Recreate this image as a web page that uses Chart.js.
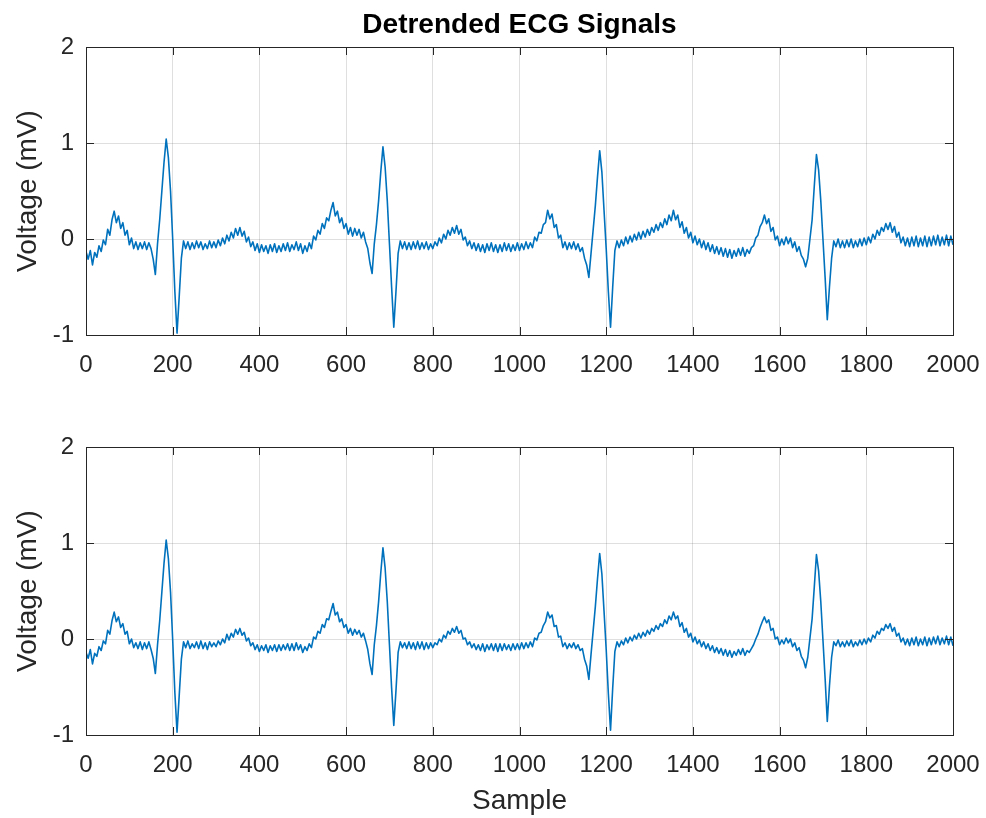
<!DOCTYPE html>
<html lang="en">
<head>
<meta charset="UTF-8">
<title>Detrended ECG Signals</title>
<script src="https://cdn.jsdelivr.net/npm/chart.js"></script>
<style>
  body { margin: 0; background: #fff; }
  #wrap { position: relative; width: 986px; height: 818px; }
  canvas { position: absolute; left: 0; }
</style>
</head>
<body>
<div id="wrap">
  <canvas id="topChart" width="986" height="400" style="top:0"></canvas>
  <canvas id="bottomChart" width="986" height="418" style="top:400px"></canvas>
</div>
<script>
// one value every 5 samples (noise included)
const sampleStep = 5;
const xTicks = [0, 200, 400, 600, 800, 1000, 1200, 1400, 1600, 1800, 2000];
const yTicks = [-1, 0, 1, 2];

const topVolts = [
  -0.13,-0.21,-0.12,-0.27,-0.14,-0.19,-0.07,-0.13,-0.01,-0.06,
  0.10,0.04,0.20,0.29,0.17,0.24,0.11,0.17,0.04,0.09,
  -0.06,0.01,-0.10,-0.03,-0.11,-0.04,-0.10,-0.03,-0.11,-0.04,
  -0.10,-0.21,-0.37,-0.05,0.20,0.50,0.80,1.04,0.85,0.50,
  0.00,-0.55,-0.98,-0.60,-0.20,-0.02,-0.10,-0.03,-0.11,-0.04,
  -0.10,-0.02,-0.09,-0.03,-0.11,-0.05,-0.10,-0.02,-0.09,-0.03,
  -0.09,-0.01,-0.07,0.01,-0.05,0.04,-0.02,0.07,0.01,0.11,
  0.04,0.12,0.03,0.08,-0.03,0.02,-0.08,-0.03,-0.12,-0.05,
  -0.14,-0.06,-0.13,-0.07,-0.15,-0.06,-0.13,-0.05,-0.14,-0.07,
  -0.13,-0.05,-0.12,-0.04,-0.13,-0.06,-0.11,-0.03,-0.12,-0.05,
  -0.15,-0.07,-0.13,-0.04,-0.10,0.03,-0.01,0.09,0.05,0.16,
  0.11,0.22,0.19,0.30,0.38,0.24,0.29,0.17,0.22,0.11,
  0.16,0.05,0.12,0.03,0.11,0.04,0.10,0.01,0.07,-0.03,
  -0.10,-0.25,-0.36,-0.05,0.15,0.40,0.70,0.96,0.75,0.40,
  -0.05,-0.50,-0.92,-0.55,-0.15,-0.02,-0.10,-0.03,-0.11,-0.04,
  -0.11,-0.03,-0.10,-0.02,-0.11,-0.04,-0.10,-0.03,-0.11,-0.05,
  -0.10,-0.03,-0.07,0.01,-0.04,0.05,0.00,0.09,0.04,0.12,
  0.06,0.14,0.05,0.10,-0.01,0.02,-0.07,-0.02,-0.10,-0.04,
  -0.12,-0.05,-0.13,-0.06,-0.14,-0.05,-0.12,-0.04,-0.13,-0.06,
  -0.14,-0.06,-0.13,-0.04,-0.12,-0.05,-0.13,-0.06,-0.12,-0.04,
  -0.12,-0.05,-0.11,-0.03,-0.10,-0.04,-0.09,0.02,-0.02,0.07,
  0.06,0.15,0.17,0.30,0.21,0.26,0.12,0.15,0.01,0.04,
  -0.09,-0.03,-0.11,-0.04,-0.10,-0.03,-0.11,-0.05,-0.13,-0.09,
  -0.20,-0.27,-0.40,-0.15,0.10,0.35,0.65,0.92,0.70,0.30,
  -0.10,-0.55,-0.92,-0.50,-0.12,-0.02,-0.09,-0.01,-0.07,0.02,
  -0.05,0.03,-0.03,0.05,-0.01,0.07,0.00,0.08,0.02,0.10,
  0.04,0.12,0.07,0.15,0.09,0.17,0.12,0.21,0.15,0.25,
  0.19,0.30,0.20,0.25,0.12,0.18,0.06,0.12,0.01,0.07,
  -0.04,0.03,-0.06,0.00,-0.09,-0.02,-0.11,-0.04,-0.13,-0.06,
  -0.15,-0.08,-0.16,-0.09,-0.18,-0.10,-0.19,-0.11,-0.20,-0.12,
  -0.18,-0.10,-0.17,-0.09,-0.18,-0.11,-0.15,-0.09,-0.07,0.01,
  0.04,0.13,0.17,0.25,0.16,0.21,0.08,0.12,-0.01,0.03,
  -0.07,0.00,-0.06,0.02,-0.05,0.01,-0.09,-0.03,-0.13,-0.08,
  -0.17,-0.21,-0.29,-0.20,0.00,0.20,0.55,0.88,0.72,0.40,
  0.00,-0.40,-0.84,-0.50,-0.20,-0.02,-0.08,0.00,-0.09,-0.02,
  -0.09,-0.01,-0.08,0.00,-0.09,-0.02,-0.08,0.00,-0.07,0.01,
  -0.06,0.02,-0.04,0.05,0.00,0.09,0.04,0.12,0.08,0.16,
  0.10,0.17,0.07,0.13,0.02,0.07,-0.04,0.02,-0.07,0.01,
  -0.08,0.02,-0.07,0.03,-0.08,0.01,-0.07,0.03,-0.08,0.02,
  -0.07,0.03,-0.06,0.04,-0.07,0.02,-0.06,0.04,-0.07,0.03,
  -0.06
];

const bottomVolts = [
  -0.14,-0.20,-0.11,-0.26,-0.15,-0.18,-0.08,-0.12,-0.02,-0.05,
  0.09,0.05,0.19,0.28,0.18,0.23,0.12,0.16,0.05,0.08,
  -0.05,0.00,-0.09,-0.04,-0.10,-0.03,-0.11,-0.04,-0.10,-0.03,
  -0.11,-0.20,-0.36,-0.06,0.19,0.49,0.79,1.03,0.84,0.49,
  -0.01,-0.56,-0.97,-0.59,-0.21,-0.03,-0.09,-0.02,-0.10,-0.05,
  -0.09,-0.03,-0.10,-0.02,-0.10,-0.04,-0.11,-0.03,-0.08,-0.04,
  -0.08,-0.02,-0.06,0.00,-0.04,0.05,-0.01,0.06,0.02,0.10,
  0.05,0.11,0.04,0.07,-0.02,0.01,-0.07,-0.04,-0.11,-0.06,
  -0.13,-0.07,-0.12,-0.06,-0.14,-0.07,-0.12,-0.06,-0.13,-0.06,
  -0.12,-0.06,-0.11,-0.05,-0.12,-0.05,-0.12,-0.04,-0.11,-0.06,
  -0.14,-0.08,-0.12,-0.05,-0.09,0.02,0.00,0.08,0.06,0.15,
  0.12,0.21,0.20,0.29,0.37,0.25,0.28,0.18,0.21,0.12,
  0.15,0.06,0.11,0.04,0.10,0.05,0.09,0.02,0.06,-0.02,
  -0.11,-0.26,-0.37,-0.06,0.14,0.39,0.69,0.95,0.74,0.39,
  -0.06,-0.51,-0.90,-0.54,-0.14,-0.03,-0.09,-0.04,-0.10,-0.03,
  -0.10,-0.04,-0.11,-0.03,-0.10,-0.03,-0.11,-0.04,-0.10,-0.04,
  -0.09,-0.04,-0.06,0.00,-0.03,0.04,0.01,0.08,0.05,0.11,
  0.07,0.13,0.06,0.09,0.00,0.01,-0.06,-0.03,-0.09,-0.05,
  -0.11,-0.06,-0.12,-0.05,-0.13,-0.06,-0.11,-0.05,-0.12,-0.05,
  -0.13,-0.05,-0.12,-0.05,-0.11,-0.06,-0.12,-0.05,-0.11,-0.05,
  -0.11,-0.04,-0.10,-0.04,-0.09,-0.03,-0.08,0.01,-0.01,0.06,
  0.07,0.14,0.18,0.28,0.22,0.25,0.13,0.14,0.02,0.03,
  -0.08,-0.04,-0.10,-0.05,-0.09,-0.04,-0.10,-0.06,-0.12,-0.10,
  -0.21,-0.28,-0.42,-0.16,0.09,0.34,0.63,0.89,0.68,0.29,
  -0.11,-0.57,-0.95,-0.51,-0.13,-0.03,-0.08,-0.02,-0.06,0.01,
  -0.04,0.02,-0.02,0.04,0.00,0.06,0.01,0.07,0.03,0.09,
  0.05,0.11,0.08,0.14,0.10,0.16,0.13,0.20,0.16,0.24,
  0.20,0.28,0.21,0.24,0.13,0.17,0.07,0.11,0.02,0.06,
  -0.03,0.02,-0.05,-0.01,-0.08,-0.03,-0.10,-0.05,-0.12,-0.07,
  -0.14,-0.09,-0.15,-0.10,-0.17,-0.11,-0.18,-0.12,-0.19,-0.13,
  -0.17,-0.11,-0.16,-0.10,-0.17,-0.12,-0.14,-0.10,-0.06,0.00,
  0.05,0.12,0.18,0.23,0.17,0.20,0.09,0.11,0.00,0.02,
  -0.06,-0.01,-0.05,0.01,-0.04,0.00,-0.08,-0.04,-0.12,-0.09,
  -0.18,-0.22,-0.30,-0.19,0.01,0.21,0.54,0.88,0.71,0.39,
  -0.01,-0.41,-0.86,-0.49,-0.19,-0.03,-0.07,-0.01,-0.08,-0.03,
  -0.08,-0.02,-0.07,-0.01,-0.08,-0.03,-0.07,-0.01,-0.06,0.00,
  -0.05,0.01,-0.03,0.04,0.01,0.08,0.05,0.11,0.09,0.15,
  0.11,0.16,0.08,0.12,0.03,0.06,-0.03,0.01,-0.06,0.00,
  -0.07,0.01,-0.06,0.02,-0.07,0.00,-0.06,0.02,-0.07,0.01,
  -0.06,0.02,-0.05,0.03,-0.06,0.01,-0.05,0.03,-0.06,0.02,
  -0.07
];

const lineColor = '#0072BD';
const axisColor = '#262626';
const gridColor = 'rgba(38,38,38,0.15)';
const fontFamily = '"Liberation Sans", Arial, Helvetica, sans-serif';

// chart area: x 86..953, y 47..335 inside each canvas
const plotTop = 47, plotBottom = 335, plotLeft = 86, plotRight = 953;

const boxPlugin = {
  id: 'matlabBox',
  afterDraw(chart, args, opts) {
    const ctx = chart.ctx;
    const a = chart.chartArea;
    const xs = chart.scales.x, ys = chart.scales.y;
    ctx.save();
    ctx.strokeStyle = axisColor;
    ctx.lineWidth = 1;
    ctx.strokeRect(a.left + 0.5, a.top + 0.5, a.right - a.left, a.bottom - a.top);
    ctx.beginPath();
    const tl = 8;
    xTicks.forEach(v => {
      const px = Math.round(xs.getPixelForValue(v)) + 0.5;
      ctx.moveTo(px, a.bottom); ctx.lineTo(px, a.bottom - tl);
      ctx.moveTo(px, a.top); ctx.lineTo(px, a.top + tl);
    });
    yTicks.forEach(v => {
      const py = Math.round(ys.getPixelForValue(v)) + 0.5;
      ctx.moveTo(a.left, py); ctx.lineTo(a.left + tl, py);
      ctx.moveTo(a.right, py); ctx.lineTo(a.right - tl, py);
    });
    ctx.stroke();
    if (opts && opts.text) {
      ctx.fillStyle = '#000';
      ctx.font = 'bold 28px ' + fontFamily;
      ctx.textAlign = 'center';
      ctx.textBaseline = 'middle';
      ctx.fillText(opts.text, (a.left + a.right) / 2, 25);
    }
    ctx.restore();
  }
};

function makeChart(id, volts, canvasH, titleText, xLabel) {
  const pts = volts.map((v, i) => ({ x: i * sampleStep, y: v }));
  return new Chart(document.getElementById(id), {
    type: 'line',
    data: {
      datasets: [{
        data: pts,
        borderColor: lineColor,
        borderWidth: 1.6,
        borderJoinStyle: 'round',
        pointRadius: 0,
        tension: 0,
        fill: false
      }]
    },
    options: {
      responsive: false,
      animation: false,
      devicePixelRatio: 1,
      layout: { padding: { top: plotTop, right: 986 - plotRight, left: 0, bottom: 0 } },
      plugins: {
        legend: { display: false },
        tooltip: { enabled: false },
        matlabBox: { text: titleText }
      },
      scales: {
        x: {
          type: 'linear', min: 0, max: 2000,
          afterBuildTicks: s => { s.ticks = xTicks.map(v => ({ value: v })); },
          afterFit: s => { s.height = canvasH - plotBottom; s.paddingLeft = 0; s.paddingRight = 0; },
          grid: { color: gridColor, drawTicks: false },
          border: { display: false },
          ticks: { color: axisColor, font: { family: fontFamily, size: 24 }, padding: 16, maxRotation: 0, autoSkip: false,
                   callback: v => String(v) },
          title: { display: !!xLabel, text: xLabel || '', color: axisColor, font: { family: fontFamily, size: 28 }, padding: { top: 0, bottom: 0 } }
        },
        y: {
          min: -1, max: 2,
          afterBuildTicks: s => { s.ticks = yTicks.map(v => ({ value: v })); },
          afterFit: s => { s.width = plotLeft; s.paddingTop = 0; s.paddingBottom = 0; },
          grid: { color: gridColor, drawTicks: false },
          border: { display: false },
          ticks: { color: axisColor, font: { family: fontFamily, size: 24 }, padding: 12, callback: v => String(v) },
          title: { display: true, text: 'Voltage (mV)', color: axisColor, font: { family: fontFamily, size: 28 }, padding: { top: 11, bottom: 0 } }
        }
      }
    },
    plugins: [boxPlugin]
  });
}

makeChart('topChart', topVolts, 400, 'Detrended ECG Signals', null);
makeChart('bottomChart', bottomVolts, 418, null, 'Sample');
</script>
</body>
</html>
